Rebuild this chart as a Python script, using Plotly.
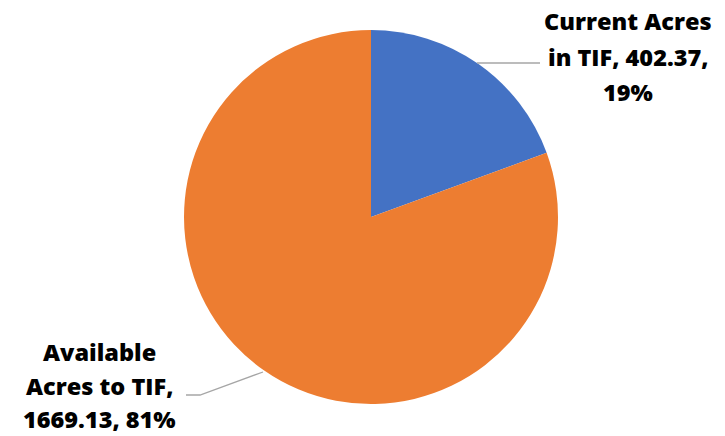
import plotly.graph_objects as go

categories = ["Current Acres in TIF", "Available Acres to TIF"]
values = [402.37, 1669.13]
colors = ["#4472C4", "#ED7D31"]

total = sum(values)
pcts = [round(v / total * 100) for v in values]

# label lines (wrapped like the original)
label_lines = [
    ["Current Acres", f"in TIF, {values[0]:.2f},", f"{pcts[0]}%"],
    ["Available", "Acres to TIF,", f"{values[1]:.2f}, {pcts[1]}%"],
]

W, H = 725, 436
cx, cy, r = 371, 217, 187

fig = go.Figure(go.Pie(
    labels=categories,
    values=values,
    marker=dict(colors=colors, line=dict(width=0)),
    sort=False,
    direction="clockwise",
    rotation=0,
    textinfo="none",
    hoverinfo="label+value+percent",
    domain=dict(x=[(cx - r) / W, (cx + r) / W], y=[1 - (cy + r) / H, 1 - (cy - r) / H]),
    showlegend=False,
))

font = dict(family="Open Sans, DejaVu Sans, sans-serif", size=23.5, color="#000000", weight=800)
annotations = []
label_pos = [(628, [21, 57, 92]), (99, [352, 386, 419])]
for lines, (x, ys) in zip(label_lines, label_pos):
    for line, y in zip(lines, ys):
        annotations.append(dict(
            text=line, x=x / W, y=1 - y / H, xref="paper", yref="paper",
            xanchor="center", yanchor="middle", showarrow=False, font=font,
        ))

def P(x, y):
    return x / W, 1 - y / H

shapes = []
line_style = dict(color="#A6A6A6", width=1.3)
# leader line for first slice
x0, y0 = P(477, 63)
x1, y1 = P(540, 63)
shapes.append(dict(type="line", xref="paper", yref="paper", x0=x0, y0=y0, x1=x1, y1=y1, line=line_style))
# leader line for second slice
pts = [P(263, 372), P(200, 395), P(186, 395)]
path = "M {} {} L {} {} L {} {}".format(pts[0][0], pts[0][1], pts[1][0], pts[1][1], pts[2][0], pts[2][1])
shapes.append(dict(type="path", xref="paper", yref="paper", path=path, line=line_style))

fig.update_layout(
    width=W, height=H,
    margin=dict(l=0, r=0, t=0, b=0),
    paper_bgcolor="white", plot_bgcolor="white",
    annotations=annotations,
    shapes=shapes,
)

fig.write_html("out.html")
